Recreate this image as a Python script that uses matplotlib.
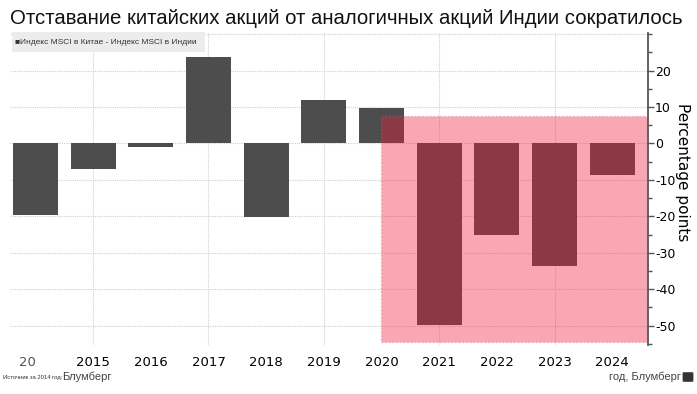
import matplotlib
matplotlib.use("Agg")
import matplotlib.pyplot as plt
from matplotlib.patches import Rectangle, FancyBboxPatch

# data
years = [2014, 2015, 2016, 2017, 2018, 2019, 2020, 2021, 2022, 2023, 2024]
year_labels = ["20", "2015", "2016", "2017", "2018", "2019", "2020",
               "2021", "2022", "2023", "2024"]
gap = [-19.7, -7.1, -1.1, 23.8, -20.2, 12.0, 9.8, -49.7, -25.1, -33.6, -8.7]
y_ticks = [-50, -40, -30, -20, -10, 0, 10, 20]

title = "Отставание китайских акций от аналогичных акций Индии сократилось"
legend_text = "■Индекс MSCI в Китае - Индекс MSCI в Индии"

plt.rcParams['font.family'] = ['Liberation Sans', 'DejaVu Sans']
plt.rcParams['axes.unicode_minus'] = False

fig = plt.figure(figsize=(6.97, 3.94), dpi=100)
ax = fig.add_axes([10/697, 1-345/394, 638/697, 312/394])

ax.bar(years, gap, width=0.78, color="#4d4d4d", zorder=2)

# highlighted period
hl = Rectangle((2020, -54.5), 2024.62 - 2020, 62.0, facecolor="#ef1938",
               alpha=0.38, edgecolor="#c07080", linestyle=":", linewidth=1.0,
               zorder=3)
ax.add_patch(hl)

ax.set_xlim(2013.56, 2024.62)
ax.set_ylim(-55.3, 30.3)

# grid
for v in y_ticks + [30]:
    ax.axhline(v, color="#d0d0d0", linestyle=(0, (1, 1)), linewidth=0.8, zorder=1)
for yr in years[1::2]:
    ax.axvline(yr, color="#d0d0d0", linestyle=(0, (1, 1)), linewidth=0.8, zorder=1)

for s in ["left", "top", "bottom"]:
    ax.spines[s].set_visible(False)
ax.spines["right"].set_color("#555555")
ax.spines["right"].set_linewidth(1.3)

ax.yaxis.tick_right()
ax.set_yticks(y_ticks)
ax.set_yticks([v + 5 for v in y_ticks[:-1]] + [-55, 25, 30], minor=True)
ax.tick_params(axis="y", which="major", length=4, width=1, color="#555555",
               labelsize=9, pad=1)
ax.tick_params(axis="y", which="minor", length=3, width=1, color="#555555")
ax.set_xticks(years)
ax.set_xticklabels(year_labels, fontsize=9.5, family=["DejaVu Sans"])
ax.get_xticklabels()[0].set_ha("right")
ax.get_xticklabels()[0].set_color("#555555")
ax.tick_params(axis="x", length=0, pad=8)
for lab in ax.get_yticklabels():
    lab.set_family(["DejaVu Sans"])

ax.yaxis.set_label_position("right")
ax.set_ylabel("Percentage points", rotation=270, fontsize=11,
              family=["DejaVu Sans"], va="center")
ax.yaxis.set_label_coords(672/638, 0.554)

fig.text(10/697, 1-18/394, title, fontsize=14.7, va="center", ha="left",
         color="#111111")

# legend box
fig.patches.append(Rectangle((12/697, 1-52/394), 193/697, 20/394,
                             transform=fig.transFigure, facecolor="#ececec",
                             edgecolor="none", zorder=0))
fig.text(15/697, 1-42/394, legend_text, fontsize=6.0, va="center", ha="left",
         color="#333333", family=["Liberation Sans Narrow", "Liberation Sans"])

fig.text(3/697, 1-377/394, "Источник за 2014 год:", fontsize=4.2, va="center",
         ha="left", color="#333333",
         family=["Liberation Sans Narrow", "Liberation Sans"])
fig.text(62/697, 1-377/394, "Блумберг", fontsize=8, va="center", ha="left",
         color="#444444")
fig.text(681/697, 1-377/394, "год, Блумберг", fontsize=8, va="center",
         ha="right", color="#444444")
fig.patches.append(FancyBboxPatch((684/697, 1-381/394), 8/697, 8/394,
                                  boxstyle="round,pad=0.002",
                                  transform=fig.transFigure,
                                  facecolor="#333333", edgecolor="none"))

fig.savefig("out.png", dpi=100)
